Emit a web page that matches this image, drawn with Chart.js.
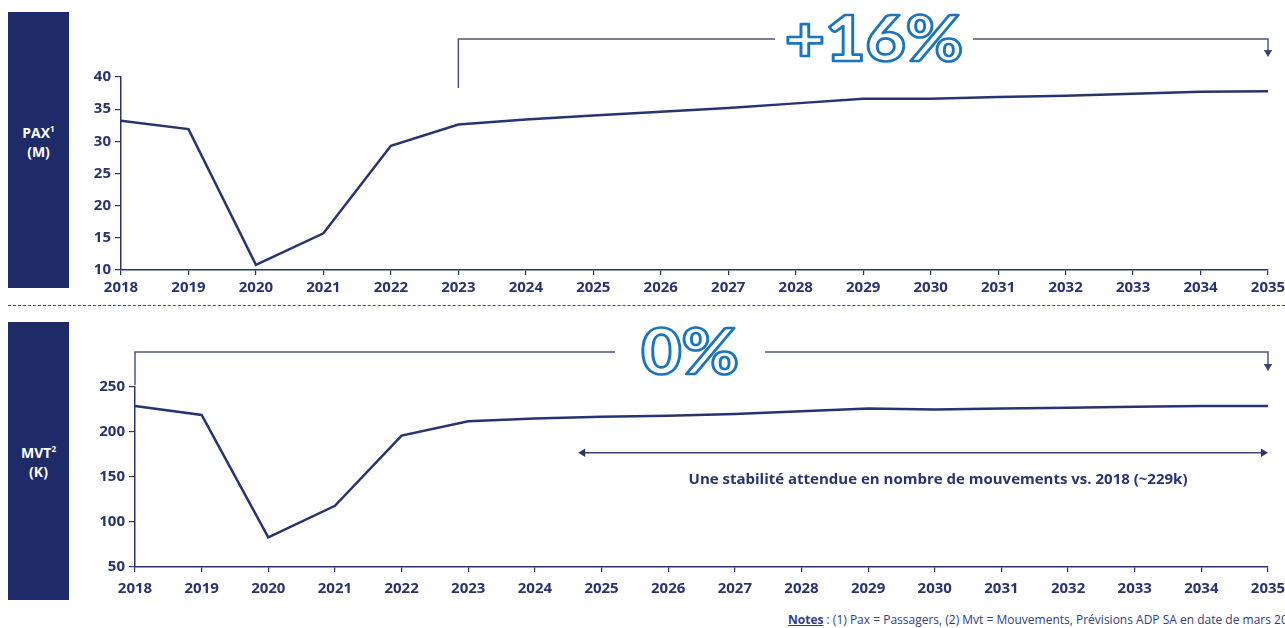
<!DOCTYPE html>
<html>
<head>
<meta charset="utf-8">
<script src="https://cdn.jsdelivr.net/npm/chart.js@4.4.1/dist/chart.umd.min.js"></script>
<style>
  html, body { margin: 0; padding: 0; background: #fff; width: 1285px; height: 628px; overflow: hidden; }
  body { position: relative; font-family: 'Open Sans', 'DejaVu Sans', sans-serif; }
  .side { position: absolute; left: 8px; width: 61px; background: #1f2b69; color: #fff; font-weight: bold; font-size: 14px; text-align: center; line-height: 19px; }
  .side span { position: absolute; left: 0; right: 0; }
  .wrap { position: absolute; left: 70px; width: 1215px; }
  #sep { position: absolute; left: 8px; right: 0; top: 305px; border-top: 1.5px dashed #3b4a7a; }
  #notes { position: absolute; left: 788px; top: 611px; font-size: 12px; color: #34407a; white-space: nowrap; }
  #notes b { text-decoration: underline; }
</style>
</head>
<body>
<div class="side" style="top:12px;height:276px"><span style="top:107px">PAX<sup style="font-size:8px">1</sup><br>(M)</span></div>
<div class="side" style="top:322px;height:278px"><span style="top:117px">MVT<sup style="font-size:8px">2</sup><br>(K)</span></div>
<div id="sep"></div>
<div class="wrap" style="top:0;height:300px"><canvas id="paxChart"></canvas></div>
<div class="wrap" style="top:310px;height:290px"><canvas id="mvtChart"></canvas></div>
<div id="notes"><b>Notes</b> : (1) Pax = Passagers, (2) Mvt = Mouvements, Prévisions ADP SA en date de mars 2024</div>

<script>
// Data
const years = ['2018', '2019', '2020', '2021', '2022', '2023', '2024', '2025', '2026',
  '2027', '2028', '2029', '2030', '2031', '2032', '2033', '2034', '2035'];
const paxValues = [33.2, 31.9, 10.8, 15.7, 29.3, 32.6, 33.4, 34.0, 34.6,
  35.2, 35.9, 36.6, 36.6, 36.9, 37.1, 37.4, 37.7, 37.8];
const mvtValues = [229, 219, 83, 118, 196, 212, 215, 217, 218,
  220, 223, 226, 225, 226, 227, 228, 229, 229];

const NAVY = '#283470';
const BLUE = '#1b75bc';
const tickFont = { family: "'Open Sans', sans-serif", size: 15, weight: 'bold' };

function arrowHead(ctx, x, y, dir, size) {
  // dir: 'down', 'left', 'right'
  ctx.beginPath();
  if (dir === 'down') {
    ctx.moveTo(x, y); ctx.lineTo(x - size * 0.6, y - size); ctx.lineTo(x + size * 0.6, y - size);
  } else if (dir === 'left') {
    ctx.moveTo(x, y); ctx.lineTo(x + size, y - size * 0.6); ctx.lineTo(x + size, y + size * 0.6);
  } else {
    ctx.moveTo(x, y); ctx.lineTo(x - size, y - size * 0.6); ctx.lineTo(x - size, y + size * 0.6);
  }
  ctx.closePath();
  ctx.fill();
}

function outlinedLabel(ctx, text, cx, cy, size) {
  ctx.save();
  ctx.translate(cx, cy);
  ctx.scale(1.12, 1);
  ctx.font = `900 ${size}px Lato, 'Open Sans', sans-serif`;
  ctx.textAlign = 'center';
  ctx.textBaseline = 'middle';
  ctx.lineJoin = 'round';
  ctx.fillStyle = '#fff';
  ctx.strokeStyle = BLUE;
  ctx.lineWidth = 2.6;
  ctx.fillText(text, 0, 0);
  ctx.strokeText(text, 0, 0);
  ctx.restore();
}

// Bracket with a label cut into its top line
function bracket(ctx, x0, yStart, x1, yTop, yArrow, label, gapLeft, gapRight, labelSize) {
  ctx.save();
  ctx.strokeStyle = '#4f5582';
  ctx.fillStyle = '#3a4278';
  ctx.lineWidth = 1.5;
  ctx.beginPath();
  ctx.moveTo(x0, yStart); ctx.lineTo(x0, yTop); ctx.lineTo(gapLeft, yTop);
  ctx.moveTo(gapRight, yTop); ctx.lineTo(x1, yTop); ctx.lineTo(x1, yArrow - 6);
  ctx.stroke();
  arrowHead(ctx, x1, yArrow, 'down', 7);
  ctx.restore();
  outlinedLabel(ctx, label, (gapLeft + gapRight) / 2, yTop + 2, labelSize);
}

function axisOptions(min, max, step, yWidth, xHeight, xPad) {
  return {
    x: {
      grid: { display: true, drawOnChartArea: false, color: NAVY, tickLength: 5, lineWidth: 1.2 },
      border: { color: NAVY, width: 1.5 },
      ticks: { color: NAVY, font: tickFont, padding: xPad, maxRotation: 0, autoSkip: false },
      afterFit: s => { s.height = xHeight; s.paddingRight = 0; s.paddingLeft = 0; }
    },
    y: {
      min: min, max: max,
      grid: { display: true, drawOnChartArea: false, color: NAVY, tickLength: 6, lineWidth: 1.2 },
      border: { color: NAVY, width: 1.5 },
      ticks: { color: NAVY, font: tickFont, stepSize: step, padding: 4 },
      afterFit: s => { s.width = yWidth; }
    }
  };
}

function lineDataset(values) {
  return [{
    data: values,
    borderColor: NAVY,
    borderWidth: 2.5,
    pointRadius: 0,
    tension: 0,
    fill: false
  }];
}

const paxAnnot = {
  id: 'paxAnnot',
  afterDraw(chart) {
    const ctx = chart.ctx;
    const x = chart.scales.x, y = chart.scales.y;
    const x0 = x.getPixelForValue(5);
    const x1 = x.getPixelForValue(17);
    bracket(ctx, x0, y.getPixelForValue(38.3), x1, 39, 57, '+16%', 705, 903, 62);
  }
};

const mvtAnnot = {
  id: 'mvtAnnot',
  afterDraw(chart) {
    const ctx = chart.ctx;
    const x = chart.scales.x, y = chart.scales.y;
    const x0 = x.getPixelForValue(0);
    const x1 = x.getPixelForValue(17);
    bracket(ctx, x0, y.getPixelForValue(252), x1, 42, 61, '0%', 545, 695, 62);

    // double-headed arrow with caption
    const step = x.getPixelForValue(1) - x.getPixelForValue(0);
    const aL = x.getPixelForValue(6) + 0.65 * step;
    const ay = y.getPixelForValue(177);
    ctx.save();
    ctx.strokeStyle = '#3a4278';
    ctx.fillStyle = '#2a3570';
    ctx.lineWidth = 1.5;
    ctx.beginPath();
    ctx.moveTo(aL + 4, ay); ctx.lineTo(x1 - 4, ay);
    ctx.stroke();
    arrowHead(ctx, aL, ay, 'left', 7);
    arrowHead(ctx, x1, ay, 'right', 7);
    ctx.font = "bold 15px 'Open Sans', sans-serif";
    ctx.textAlign = 'center';
    ctx.textBaseline = 'middle';
    ctx.fillStyle = NAVY;
    ctx.fillText('Une stabilité attendue en nombre de mouvements vs. 2018 (~229k)', 868, ay + 27);
    ctx.restore();
  }
};

const baseOptions = {
  responsive: true,
  maintainAspectRatio: false,
  animation: false,
  plugins: { legend: { display: false }, tooltip: { enabled: false } }
};

new Chart(document.getElementById('paxChart'), {
  type: 'line',
  data: { labels: years, datasets: lineDataset(paxValues) },
  options: Object.assign({}, baseOptions, {
    layout: { padding: { top: 77, right: 17, left: 0, bottom: 0 } },
    scales: axisOptions(10, 40, 5, 51, 30, 4)
  }),
  plugins: [paxAnnot]
});

new Chart(document.getElementById('mvtChart'), {
  type: 'line',
  data: { labels: years, datasets: lineDataset(mvtValues) },
  options: Object.assign({}, baseOptions, {
    layout: { padding: { top: 77, right: 17, left: 0, bottom: 0 } },
    scales: axisOptions(50, 250, 50, 65, 33, 8)
  }),
  plugins: [mvtAnnot]
});
</script>
</body>
</html>
